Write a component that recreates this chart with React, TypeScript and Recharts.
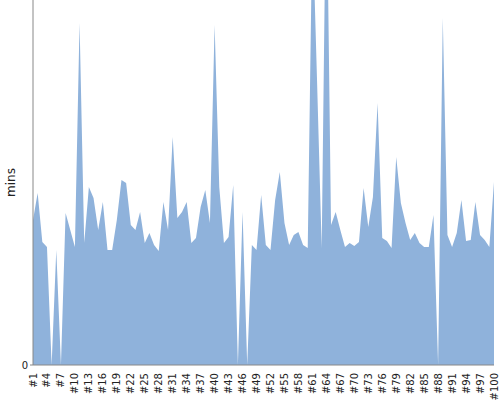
import { AreaChart, Area, XAxis, YAxis } from 'recharts';

const labels: string[] = Array.from({ length: 100 }, (_, i) => `#${i + 1}`);

const minutes: number[] = [
  29, 34.4, 24.6, 23.6, 0, 23, 0, 30.4, 27, 23.6,
  68.4, 24.4, 35.6, 33.4, 27, 32.6, 23, 23, 29, 37,
  36.4, 28, 27, 30.6, 24.4, 26.4, 24, 22.8, 32.6, 27,
  45.6, 29.4, 30.6, 32.6, 24.4, 25.4, 31.6, 35, 28.4, 68,
  35.6, 24.4, 25.6, 36, 0, 30.6, 0, 24, 23, 34,
  24, 23, 33, 38.6, 28.4, 24, 26, 26.6, 24, 23.4,
  89.2, 56.8, 23.4, 103, 28, 30.6, 27, 23.6, 24.4, 23.8,
  24.6, 35.4, 27.6, 33.6, 52.4, 25.4, 24.8, 23.4, 41.6, 32.4,
  28.4, 25, 26.4, 24.4, 23.6, 23.6, 30, 0, 69.4, 26,
  23.6, 26.4, 33, 24.8, 25, 32.6, 26, 25, 23.6, 36.6,
];

const yTicks: number[] = [0];

const data = labels.map((label, i) => ({ label, mins: minutes[i] }));

function RotatedTick(props: any) {
  const { x, y, payload } = props;
  return (
    <text
      x={x}
      y={y}
      dy="0.35em"
      transform={`rotate(-90, ${x}, ${y})`}
      textAnchor="end"
      fontSize={10}
      fontFamily="DejaVu Sans"
      fill="#222"
    >
      {payload.value}
    </text>
  );
}

export default function App() {
  return (
    <div style={{ position: 'absolute', left: 0, top: 0 }}>
      <AreaChart
        width={500}
        height={400}
        data={data}
        margin={{ top: 0, right: 6, left: 0, bottom: 0 }}
      >
        <XAxis
          dataKey="label"
          interval={2}
          tickLine={false}
          axisLine={{ stroke: '#888' }}
          height={35}
          tick={<RotatedTick />}
          tickMargin={2}
        />
        <YAxis
          width={33}
          domain={[0, 73]}
          allowDataOverflow
          ticks={yTicks}
          tickSize={3}
          tickMargin={2}
          tickLine={{ stroke: '#888' }}
          axisLine={{ stroke: '#888' }}
          tick={{ fontSize: 10, fill: '#222', fontFamily: 'DejaVu Sans' }}
          label={{
            value: 'mins',
            angle: -90,
            position: 'center',
            dx: -6,
            fontSize: 12,
            fill: '#222',
            fontFamily: 'DejaVu Sans',
          }}
        />
        <Area
          type="linear"
          dataKey="mins"
          stroke="none"
          fill="#8fb2db"
          fillOpacity={1}
          isAnimationActive={false}
        />
      </AreaChart>
    </div>
  );
}
